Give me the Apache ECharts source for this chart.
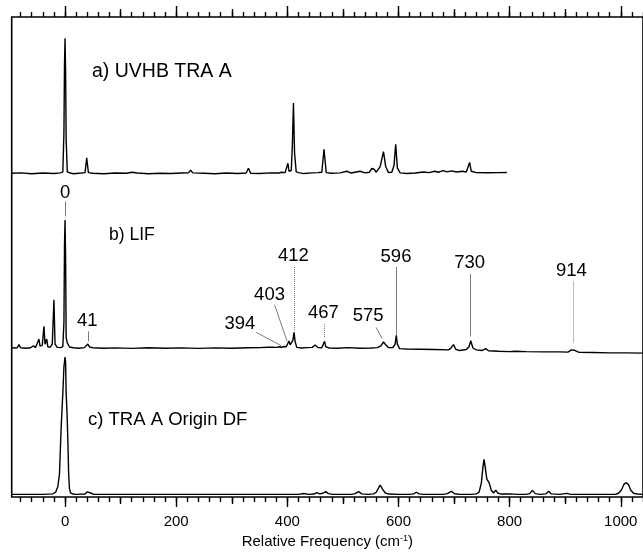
<!DOCTYPE html>
<html>
<head>
<meta charset="utf-8">
<script src="https://cdn.jsdelivr.net/npm/echarts@6.0.0/dist/echarts.min.js"></script>
<style>
html,body{margin:0;padding:0;background:#fff}
#chart{width:643px;height:554px}
</style>
</head>
<body>
<div id="chart"></div>
<script>
// x = relative frequency (cm-1), y = intensity with the origin band at 100
var uvhbTrace = [
	[-96,0],[-80,0.3],[-60,-0.3],[-40,0.2],[-20,-0.2],[-8,0.3],[-4,1],[-2,30],[-1,80],[0,100],[1,75],[2,25],[4,1],
	[8,0.4],[15,-0.3],[30,0.2],[36,0.5],[39,11.5],[42,0.5],[50,0],[70,-0.3],[90,0.2],[110,0],[121,0.8],[130,0.2],
	[150,-0.3],[170,0],[190,-0.2],[210,0.2],[222,0.3],[226,2.2],[230,0.3],[250,0],[270,-0.3],[290,0.2],[310,-0.2],
	[326,0.2],[330,3.7],[334,0],[350,-0.2],[370,0.3],[385,0.2],[390,0.8],[393,2.2],[396,0.5],[399,1],[401,7.4],
	[403,1.5],[407,2],[409,20],[411,52],[413,15],[416,1],[420,0.5],[430,-0.2],[445,0.3],[455,0.5],[462,0.8],
	[466,17.8],[470,0.5],[480,0],[495,0.3],[507,1.5],[515,0.2],[531,1.5],[540,0.3],[548,0.8],[552,3.7],[556,3],
	[560,0.8],[567,5],[573,16],[577,5],[582,0.5],[588,0.8],[592,6],[595,21.5],[598,4],[603,0.3],[615,-0.2],
	[630,0.2],[645,1],[655,0.5],[665,1.5],[672,0.8],[680,2],[688,1],[695,1.8],[705,1],[715,1.5],[722,1],[725,2],
	[728,8],[731,1.5],[740,0.5],[760,0.4],[780,0.5],[795,0.6]
];
var lifTrace = [
	[-96,0.3],[-90,0],[-86,0.2],[-83,2.6],[-80,0.2],[-70,-0.2],[-62,0.2],[-57,1.8],[-53,0.3],[-50,0.8],[-47,7],
	[-45,1.5],[-41,2],[-38,17],[-36,3],[-33,7],[-31,1],[-27,0.5],[-23,3],[-20,37.7],[-18,3],[-14,0.5],[-8,0.3],
	[-4,1],[-2,20],[-1,80],[0,100],[1,70],[2,8],[4,4],[6,3.5],[8,0.8],[15,0.2],[25,-0.2],[35,0.3],[38,1],[41,3.1],
	[44,0.8],[50,0.2],[70,-0.2],[90,0.1],[120,-0.3],[150,0.2],[180,-0.2],[210,0.1],[240,-0.3],[270,0.1],[300,-0.2],
	[330,0.2],[350,0.3],[365,0.6],[368,1.5],[371,0.6],[380,0.5],[386,1],[390,0.6],[394,1.2],[398,1],[401,2.5],
	[403,5.5],[405,2.5],[408,2],[410,6],[412,12.2],[414,5],[417,0.5],[425,0],[435,0.3],[445,0.5],[450,2.3],
	[455,0.4],[462,0.2],[465,1.5],[467,5.2],[469,1],[475,0],[490,-0.2],[510,0.3],[530,-0.2],[550,0],[562,0.3],
	[568,1.5],[573,4.7],[577,2.5],[582,0.3],[590,0.4],[594,3],[596,9.8],[598,3],[602,-0.5],[615,-0.8],[640,-1],
	[665,-1.2],[690,-1.5],[694,-0.3],[699,2.6],[703,-1],[710,-2],[722,-1.2],[727,1],[730,5.7],[734,0],[740,-1.5],
	[750,-2],[757,-0.5],[762,-2.2],[780,-2.5],[800,-2.8],[810,-2.5],[830,-2.8],[860,-3],[890,-3],[905,-3.2],
	[911,-1.5],[914,0],[917,-1.8],[925,-3.4],[950,-3.5],[980,-3.8],[1010,-3.8],[1040,-4]
];
var dfTrace = [
	[-96,0],[-40,0],[-22,0.3],[-17,1.5],[-13,5.5],[-10,15],[-7,49],[-4,73.5],[-2,93],[0,100],[1,96],[2,73.5],
	[3.5,60],[5,40],[6.5,15],[8,4],[10,1],[14,0.2],[20,0],[36,0.2],[40,1.8],[43,2.2],[47,0.8],[52,0],[100,0],
	[200,0],[300,0],[420,0],[430,0.6],[438,0],[448,0.2],[453,1.3],[458,0.3],[464,0.8],[469,2],[474,0.5],[482,0],
	[515,0],[522,0.5],[528,2],[534,0.3],[545,0],[555,0.3],[560,1.5],[564,4.5],[567,6.8],[571,4],[576,1],[583,0.2],
	[600,0],[620,0],[627,0.3],[632,1.5],[637,0.3],[645,0],[680,0],[688,0.5],[695,2.2],[701,0.4],[710,0],[730,0],
	[740,0.3],[745,1.5],[749,8],[752,20],[754,25.5],[756,20],[759,11],[763,8.5],[767,3],[771,1],[775,3.1],[779,0.8],
	[785,0.2],[800,0.3],[815,0],[830,0],[836,0.5],[841,2.9],[846,0.5],[855,0],[865,0.3],[870,2.2],[875,0.3],
	[890,0],[903,0.7],[910,0],[990,0],[996,0.8],[1001,3],[1006,7.5],[1010,8.5],[1014,7],[1018,3],[1023,0.8],
	[1030,0.2],[1040,0]
];
var peakNames = ['0','41','394','403','412','467','575','596','730','914'];
var tickLabels = [0,200,400,600,800,1000];
var midTicks = [100,300,500,700,900];

var xMin = -96, xMax = 1040;
var FONT = 'Liberation Sans, Arial, sans-serif';
var minorTicks = [];
for (var t = -80; t <= xMax; t += 20) minorTicks.push(t);

var chart = echarts.init(document.getElementById('chart'));

function frameAxis(pos, ticks, len, withLabels) {
	return {
		gridIndex: 0, type: 'value', position: pos, min: xMin, max: xMax,
		axisLine: {show: false}, splitLine: {show: false},
		axisTick: {show: true, customValues: ticks, length: len, lineStyle: {color: '#000', width: 1.4}},
		axisLabel: withLabels ? {
			show: true, customValues: tickLabels, margin: 17,
			formatter: function (v) { return String(v); },
			color: '#000', fontSize: 15, fontFamily: FONT
		} : {show: false},
		name: withLabels ? 'Relative Frequency (cm{sup|-1})' : '',
		nameLocation: 'middle', nameGap: 37,
		nameTextStyle: {
			color: '#000', fontSize: 15, fontFamily: FONT,
			rich: {sup: {fontSize: 9, fontFamily: FONT, color: '#000', verticalAlign: 'top', padding: [0, 0, 6, 0]}}
		}
	};
}
function hiddenX(g) {
	return {gridIndex: g, type: 'value', min: xMin, max: xMax, show: false};
}
function hiddenY(g, lo, hi) {
	return {gridIndex: g, type: 'value', min: lo, max: hi, show: false};
}
function trace(name, g, data, marks) {
	var s = {
		name: name, type: 'line', xAxisIndex: g + 5, yAxisIndex: g,
		data: data, showSymbol: false, animation: false, silent: true,
		lineStyle: {color: '#000', width: 1.4}
	};
	if (marks) {
		s.markPoint = marks.point;
		s.markLine = marks.line;
	}
	return s;
}

var grey = {color: '#7a7a7a', width: 1, type: 'solid'};
var greyDot = {color: '#7a7a7a', width: 1, type: 'dotted'};
function lead(x1, y1, x2, y2, st) {
	return [{coord: [x1, y1], lineStyle: st}, {coord: [x2, y2]}];
}
var spots = [[0,121.3],[40,20.8],[314.6,19],[368,41.6],[411,72],[465,27.3],[545.5,24.7],[595.5,70.8],[728,66.4],[911,60.6]];

var lifMarks = {
	point: {
		symbol: 'circle', symbolSize: 1, silent: true, animation: false,
		itemStyle: {color: 'rgba(0,0,0,0)'},
		label: {show: true, position: 'inside', formatter: '{b}', color: '#000', fontSize: 18.5, fontFamily: FONT},
		data: peakNames.map(function (n, i) { return {name: n, coord: spots[i]}; })
	},
	line: {
		symbol: ['none', 'none'], silent: true, animation: false,
		label: {show: false},
		data: [
			lead(0, 114.5, 0, 102.8, grey),
			lead(41, 13, 41, 5.2, grey),
			lead(344, 12.2, 389, 1.8, grey),
			lead(377, 33.8, 399.6, 5.2, grey),
			lead(412, 63.3, 412, 13, greyDot),
			lead(467, 18.7, 467, 7.8, greyDot),
			lead(559.8, 16.1, 570.5, 7.3, grey),
			lead(596, 63.3, 596, 10.4, grey),
			lead(730, 57.8, 730, 9, grey),
			lead(914, 52, 914, 3.9, greyDot)
		]
	}
};

var side = {left: 11.7, right: -5.4};
var option = {
	backgroundColor: '#fff',
	animation: false,
	grid: [
		Object.assign({top: 17, bottom: 53, show: true, borderColor: '#000', borderWidth: 1.6, backgroundColor: 'transparent'}, side),
		Object.assign({top: 31.55, bottom: 373.95}, side),
		Object.assign({top: 181.6, bottom: 193.2}, side),
		Object.assign({top: 350.1, bottom: 52.8}, side)
	],
	xAxis: [
		frameAxis('bottom', tickLabels, 10, true),
		frameAxis('bottom', midTicks, 7, false),
		frameAxis('bottom', minorTicks, 5, false),
		frameAxis('top', tickLabels, 11, false),
		frameAxis('top', midTicks, 8, false),
		frameAxis('top', minorTicks, 5, false),
		hiddenX(1), hiddenX(2), hiddenX(3)
	],
	yAxis: [
		{gridIndex: 0, type: 'value', min: 0, max: 1, show: false},
		hiddenY(1, -5, 105),
		hiddenY(2, -10, 130),
		hiddenY(3, -5, 105)
	],
	series: [
		trace('UVHB', 1, uvhbTrace),
		trace('LIF', 2, lifTrace, lifMarks),
		trace('DF', 3, dfTrace)
	],
	graphic: [
		{type: 'text', x: 92, y: 72, style: {text: 'a) UVHB TRA A', fontSize: 19.5, fontFamily: FONT, fill: '#000', verticalAlign: 'middle'}},
		{type: 'text', x: 109, y: 235, style: {text: 'b) LIF', fontSize: 17.5, fontFamily: FONT, fill: '#000', verticalAlign: 'middle'}},
		{type: 'text', x: 88, y: 420, style: {text: 'c) TRA A Origin DF', fontSize: 18.5, fontFamily: FONT, fill: '#000', verticalAlign: 'middle'}}
	]
};
option.series.forEach(function (s, i) { s.xAxisIndex = 6 + i; });
chart.setOption(option);
</script>
</body>
</html>
